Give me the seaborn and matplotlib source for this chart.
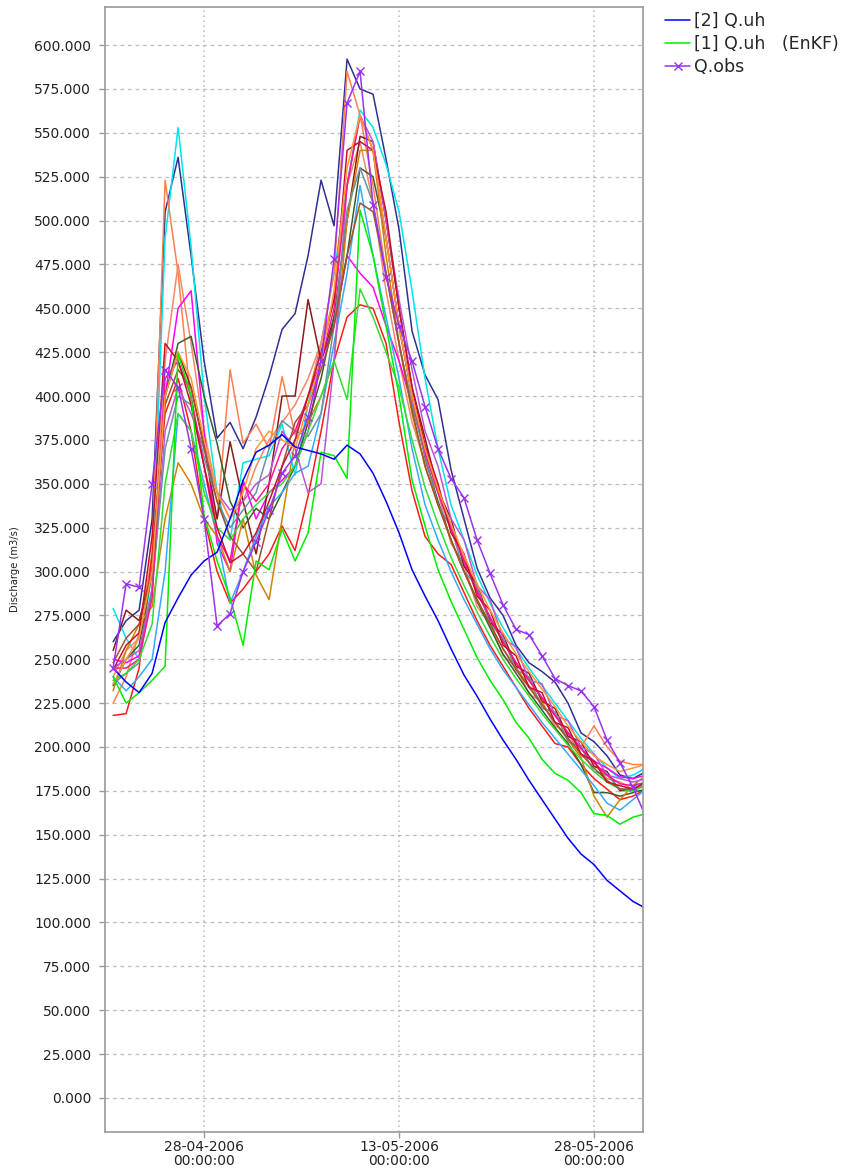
#!/usr/bin/env python
# -*- coding: utf-8 -*-
#
#  ensemble discharge plot (EnKF run, Q.uh members vs observed)
#

import pandas as pd
import numpy as np
import matplotlib
matplotlib.use("Agg")
import matplotlib.pyplot as plt
import matplotlib.dates as mdates
from matplotlib.ticker import MultipleLocator, FuncFormatter
import seaborn as sns

#### daily time steps, 21-04-2006 .. 01-06-2006
dates = pd.date_range("2006-04-21", periods=42, freq="D")
tick_dates = ["2006-04-28", "2006-05-13", "2006-05-28"]

#### legend series
q_uh_2 = [245, 237, 231, 242, 271, 285, 298, 306, 311, 330,
          352, 368, 372, 378, 371, 369, 367, 364, 372, 367,
          356, 340, 322, 301, 286, 272, 256, 241, 229, 216,
          204, 193, 181, 170, 159, 148, 139, 133, 124, 118,
          112, 108]
q_uh_1_enkf = [240, 225, 231, 238, 246, 424, 400, 332, 306, 285,
               258, 306, 301, 324, 306, 322, 368, 366, 353, 506,
               480, 440, 400, 352, 326, 301, 283, 267, 251, 238,
               227, 214, 205, 193, 185, 181, 174, 162, 161, 156,
               160, 162]
q_obs = [245, 293, 291, 350, 415, 405, 370, 330, 269, 276,
         300, 317, 335, 356, 366, 388, 420, 478, 567, 585,
         509, 468, 440, 420, 394, 370, 353, 342, 318, 299,
         281, 267, 264, 252, 239, 235, 232, 223, 204, 191,
         177, 160]

#### ensemble members (not in legend)
ens_navy = [260, 272, 278, 330, 505, 536, 480, 420, 376, 385,
            370, 388, 411, 438, 447, 480, 523, 497, 592, 575,
            572, 535, 495, 437, 412, 398, 358, 330, 302, 285,
            275, 258, 248, 243, 237, 225, 208, 203, 195, 184,
            182, 186]
ens_cyan = [279, 262, 250, 300, 490, 553, 485, 400, 345, 318,
            362, 364, 366, 384, 355, 395, 430, 470, 520, 563,
            553, 532, 505, 460, 410, 370, 338, 318, 298, 282,
            268, 256, 245, 235, 225, 215, 205, 196, 188, 182,
            184, 188]
ens_coral = [225, 240, 265, 310, 523, 470, 395, 360, 330, 415,
             373, 384, 370, 411, 378, 400, 430, 470, 585, 560,
             520, 470, 430, 395, 368, 346, 326, 308, 290, 274,
             260, 248, 238, 228, 218, 208, 200, 212, 200, 192,
             190, 190]
ens_salmon = [240, 255, 262, 300, 420, 475, 430, 380, 345, 330,
              340, 360, 375, 385, 395, 410, 430, 455, 520, 545,
              510, 460, 420, 385, 362, 345, 316, 304, 280, 270,
              252, 246, 230, 226, 212, 208, 195, 192, 182, 180,
              176, 178]
ens_magenta = [250, 248, 252, 290, 400, 450, 460, 380, 316, 300,
               352, 330, 345, 352, 360, 380, 420, 440, 480, 470,
               462, 440, 420, 395, 368, 346, 326, 306, 288, 273,
               260, 248, 238, 228, 218, 208, 199, 192, 188, 183,
               182, 184]
ens_maroon = [255, 278, 272, 300, 400, 425, 405, 372, 330, 374,
              340, 310, 350, 400, 400, 455, 420, 445, 500, 548,
              545, 500, 450, 405, 376, 346, 330, 303, 293, 271,
              264, 246, 242, 226, 222, 206, 203, 189, 186, 175,
              176, 178]
ens_red = [218, 219, 245, 310, 390, 410, 380, 330, 300, 282,
           290, 300, 310, 326, 312, 343, 380, 420, 445, 452,
           450, 430, 385, 346, 320, 310, 304, 288, 272, 258,
           246, 234, 222, 212, 202, 200, 190, 182, 176, 170,
           172, 176]
ens_olive = [235, 250, 258, 300, 400, 430, 434, 400, 373, 340,
             325, 336, 330, 345, 360, 385, 410, 445, 480, 530,
             525, 490, 440, 400, 365, 340, 318, 300, 283, 268,
             253, 242, 231, 221, 211, 202, 190, 174, 174, 172,
             174, 176]
ens_gold = [232, 255, 270, 280, 330, 362, 350, 330, 320, 300,
            330, 298, 284, 330, 375, 385, 400, 420, 500, 540,
            540, 480, 430, 390, 360, 338, 318, 300, 284, 270,
            256, 245, 235, 225, 214, 204, 194, 172, 160, 170,
            178, 184]
ens_sky = [240, 232, 240, 250, 300, 390, 380, 350, 320, 282,
           300, 320, 337, 345, 356, 360, 390, 430, 470, 520,
           480, 445, 410, 370, 338, 318, 300, 284, 270, 256,
           244, 234, 224, 214, 205, 196, 187, 178, 168, 164,
           170, 176]
ens_orchid = [245, 250, 255, 290, 380, 405, 390, 370, 345, 335,
              340, 350, 355, 380, 370, 345, 350, 420, 520, 560,
              545, 500, 455, 415, 380, 360, 330, 318, 292, 284,
              262, 257, 238, 236, 218, 215, 200, 196, 184, 182,
              180, 182]
ens_slate = [236, 242, 248, 290, 370, 400, 395, 365, 340, 325,
             335, 345, 370, 386, 380, 377, 390, 440, 506, 530,
             510, 470, 430, 395, 366, 338, 325, 300, 292, 270,
             262, 244, 240, 222, 220, 203, 200, 186, 184, 176,
             176, 178]
ens_pink = [245, 245, 250, 285, 410, 420, 400, 360, 320, 306,
            350, 340, 350, 370, 380, 400, 420, 450, 520, 560,
            540, 490, 440, 400, 368, 345, 324, 306, 289, 274,
            260, 248, 238, 228, 218, 208, 199, 191, 184, 179,
            178, 180]
ens_lime = [238, 242, 250, 270, 350, 390, 380, 345, 325, 318,
            330, 338, 345, 350, 360, 380, 400, 420, 398, 461,
            445, 425, 405, 375, 348, 327, 308, 292, 277, 263,
            250, 239, 229, 219, 210, 201, 193, 186, 180, 176,
            175, 178]
ens_sienna = [248, 262, 270, 300, 395, 415, 405, 370, 340, 320,
              310, 300, 330, 360, 385, 395, 415, 440, 480, 510,
              505, 470, 430, 392, 360, 338, 318, 300, 284, 270,
              256, 244, 234, 224, 214, 205, 196, 188, 181, 176,
              176, 180]
ens_firebrick = [244, 258, 265, 320, 430, 420, 395, 360, 325, 305,
                 310, 322, 340, 360, 375, 400, 425, 455, 540, 545,
                 540, 505, 450, 405, 372, 350, 322, 310, 286, 278,
                 258, 252, 234, 231, 214, 211, 196, 192, 180, 178,
                 176, 180]
ens_orange = [236, 250, 262, 300, 400, 425, 410, 375, 345, 330,
              345, 370, 380, 375, 370, 395, 420, 460, 530, 560,
              540, 490, 440, 400, 370, 347, 327, 309, 293, 278,
              265, 253, 243, 233, 223, 212, 203, 195, 190, 186,
              188, 190]

ensemble = {
    "navy": ens_navy, "cyan": ens_cyan, "coral": ens_coral,
    "salmon": ens_salmon, "magenta": ens_magenta, "maroon": ens_maroon,
    "red": ens_red, "olive": ens_olive, "gold": ens_gold, "sky": ens_sky,
    "orchid": ens_orchid, "slate": ens_slate, "pink": ens_pink,
    "lime": ens_lime, "sienna": ens_sienna, "firebrick": ens_firebrick,
    "orange": ens_orange,
}
member_colors = {
    "navy": "#2e3192", "cyan": "#00e5ee", "coral": "#ff7f50",
    "salmon": "#f4866a", "magenta": "#ff00ff", "maroon": "#8b1a1a",
    "red": "#ff1a1a", "olive": "#3d5c2e", "gold": "#cd8500", "sky": "#33aaff",
    "orchid": "#bb55dd", "slate": "#6f8fa0", "pink": "#ff1493",
    "lime": "#33dd33", "sienna": "#a0522d", "firebrick": "#c8102e",
    "orange": "#ff9933",
}


def main(args):
    sns.set_style("white")
    plt.rcParams["font.family"] = ["DejaVu Sans"]

    fig = plt.figure(figsize=(8.46, 11.68), dpi=100)
    ax = fig.add_axes([105 / 846, 36 / 1168, 538 / 846, 1125 / 1168])

    ens_df = pd.concat([pd.DataFrame({"date": dates, "Q": vals, "member": name})
                        for name, vals in ensemble.items()])
    sns.lineplot(data=ens_df, x="date", y="Q", hue="member", palette=member_colors,
                 estimator=None, legend=False, lw=1.1, ax=ax)

    sns.lineplot(x=dates, y=q_uh_1_enkf, color="#00ee00", lw=1.1,
                 label="[1] Q.uh   (EnKF)", ax=ax)
    sns.lineplot(x=dates, y=q_uh_2, color="#0000ff", lw=1.1,
                 label="[2] Q.uh", ax=ax)
    sns.lineplot(x=dates, y=q_obs, color="#9933ee", lw=1.1, marker="x",
                 markersize=6, markeredgecolor="#9933ee", markeredgewidth=1.0,
                 label="Q.obs", ax=ax)

    # axes limits / ticks
    ax.set_xlim(dates[0] - pd.Timedelta(hours=15), dates[0] + pd.Timedelta(days=40.77))
    ax.set_ylim(-19.4, 621.7)
    ax.yaxis.set_major_locator(MultipleLocator(25))
    ax.yaxis.set_major_formatter(FuncFormatter(lambda v, p: f"{v:.3f}"))
    ax.set_xticks(mdates.date2num(pd.to_datetime(tick_dates)))
    ax.xaxis.set_major_formatter(mdates.DateFormatter("%d-%m-%Y\n%H:%M:%S"))
    ax.set_xlabel("")

    ax.tick_params(axis="y", direction="out", length=4, width=1, color="#9a9a9a",
                   pad=6, labelsize=10, labelcolor="#222222", left=True)
    ax.tick_params(axis="x", direction="out", length=4, width=1, color="#9a9a9a",
                   pad=2, labelsize=10, labelcolor="#222222", bottom=True)
    for lbl in ax.get_xticklabels():
        lbl.set_linespacing(1.0)

    ax.set_ylabel("Discharge (m3/s)", fontsize=7.2, color="#222222")
    ax.yaxis.set_label_coords(-0.158, 0.5)

    # grid: dashed horizontal, dotted vertical
    ax.set_axisbelow(True)
    ax.yaxis.grid(True, color="#bdbdbd", linestyle=(0, (3, 3)), lw=0.9)
    ax.xaxis.grid(True, color="#c4c4c4", linestyle=(0, (1, 2)), lw=1.2)
    for s in ax.spines.values():
        s.set_visible(True)
        s.set_color("#9a9a9a")
        s.set_linewidth(1.2)

    handles, labels = ax.get_legend_handles_labels()
    order = [1, 0, 2]
    ax.legend([handles[i] for i in order], [labels[i] for i in order],
              loc="upper left", bbox_to_anchor=(665 / 846, 1 - 12 / 1168),
              bbox_transform=fig.transFigure, frameon=False, fontsize=12.5,
              handlelength=1.45, handletextpad=0.2, labelspacing=0.3,
              borderpad=0, borderaxespad=0)

    fig.savefig("out.png", dpi=100)
    return 0


if __name__ == '__main__':
    import sys
    sys.exit(main(sys.argv))
